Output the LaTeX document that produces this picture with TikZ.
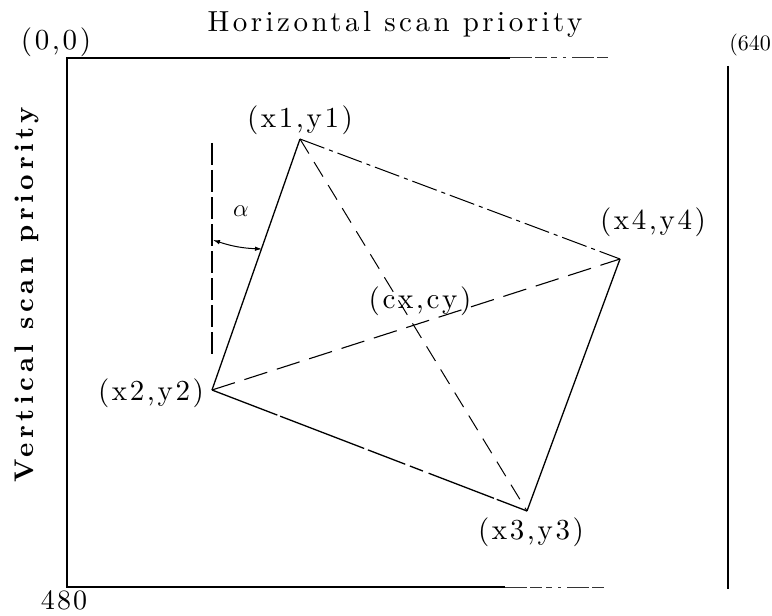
\documentclass[tikz,border=0pt]{standalone}
\usepackage{fontspec}
\setmainfont{lmroman10-regular.otf}[BoldFont=lmroman10-bold.otf, ItalicFont=lmroman10-italic.otf]
\usetikzlibrary{arrows.meta}
\begin{document}
\begin{tikzpicture}[x=1bp,y=-1bp,
  lbl/.style={inner sep=0pt, font=\fontsize{29bp}{34bp}\selectfont\addfontfeature{LetterSpace=9}},
  ttl/.style={inner sep=0pt, font=\fontsize{29bp}{34bp}\selectfont\addfontfeature{LetterSpace=12}},
  vtl/.style={inner sep=0pt, rotate=90, font=\fontsize{27bp}{32bp}\selectfont\bfseries\addfontfeature{LetterSpace=17}},
  frame/.style={line width=1.3bp},
  edge/.style={line width=1.3bp},
  faded/.style={line width=1bp, black!80, dash pattern=on 22bp off 3bp on 12bp off 4bp on 6bp off 6bp on 3bp off 6bp}
]
\useasboundingbox (0,0) rectangle (772,616);

% frame corners
\coordinate (TL) at (67,58);
\coordinate (TM) at (510,58);
\coordinate (TE) at (608,58);
\coordinate (BL) at (67,587);
\coordinate (BM) at (505,587);
\coordinate (BE) at (605,587);
\coordinate (RT) at (728,66);
\coordinate (RB) at (728,589);

\draw[frame] (TM) -- (TL) -- (BL) -- (BM);
\draw[faded] (TM) -- (TE);
\draw[faded] (BM) -- (BE);
\draw[frame] (RT) -- (RB);

% vertices
\coordinate (P1) at (300,139);
\coordinate (P2) at (212,390);
\coordinate (P3) at (527,511);
\coordinate (P4) at (620,259);
\coordinate (V1) at (212,143);
\coordinate (V2) at (212,357);
\coordinate (A1) at (213,240);
\coordinate (A2) at (262,249);

\draw[edge] (P1) -- (P2);
\draw[edge, dash pattern=on 70bp off 3bp on 90bp off 4bp on 40bp off 5bp on 14bp off 6bp] (P2) -- (P3);
\draw[edge] (P3) -- (P4);
\draw[edge, line width=1bp, dash pattern=on 26bp off 5bp on 4bp off 5bp] (P1) -- (P4);
\draw[edge, line width=1bp, dash pattern=on 17bp off 10bp] (P1) -- (P3);
\draw[edge, line width=1.1bp, dash pattern=on 24bp off 10bp] (P2) -- (P4);
\draw[edge, line width=1.1bp, dash pattern=on 22bp off 5bp] (V1) -- (V2);
\draw[line width=1bp, {Latex[length=7bp,width=4.5bp]}-{Latex[length=7bp,width=4.5bp]}] (A1) to[bend right=8] (A2);

% labels
\node[lbl] (l00) at (56,42) {(0,0)};
\node[ttl] (lh) at (395,24) {Horizontal scan priority};
\node[inner sep=0pt, anchor=east, font=\fontsize{22bp}{26bp}\selectfont] (l640) at (771,45) {(640};
\node[inner sep=0pt, font=\fontsize{28bp}{32bp}\selectfont\addfontfeature{LetterSpace=8}] (l480) at (64,600) {480};
\node[vtl] (lv) at (27,295) {Vertical scan priority};
\node[lbl] (l1) at (300,120) {(x1,y1)};
\node[lbl] (l2) at (151,393) {(x2,y2)};
\node[lbl] (l3) at (531,532) {(x3,y3)};
\node[lbl] (l4) at (653,222) {(x4,y4)};
\node[lbl] (lc) at (420,301) {(cx,cy)};
\node[inner sep=0pt, font=\fontsize{24bp}{28bp}\selectfont] (la) at (241,211) {$\alpha$};
\end{tikzpicture}
\end{document}
